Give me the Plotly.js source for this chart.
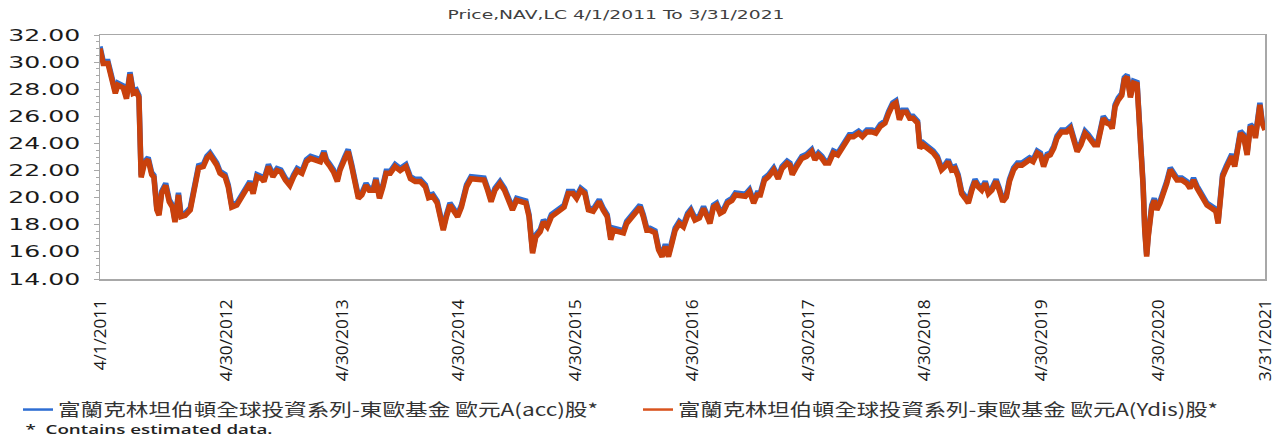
<!DOCTYPE html>
<html>
<head>
<meta charset="utf-8">
<script src="https://cdn.plot.ly/plotly-3.0.1.min.js"></script>
<style>
  html, body { margin:0; padding:0; background:#fff; }
  #chart { width:1288px; height:439px; }
</style>
</head>
<body>
<div id="chart"></div>
<script>
// ---------- DATA ----------
const chartTitle = 'Price,NAV,LC 4/1/2011 To 3/31/2021';
const seriesNames = [
  '富蘭克林坦伯頓全球投資系列-東歐基金 歐元A(acc)股*',
  '富蘭克林坦伯頓全球投資系列-東歐基金 歐元A(Ydis)股*'
];
const footnote = '*  Contains estimated data.';

const tickDates = ['2011-04-01','2012-04-30','2013-04-30','2014-04-30','2015-04-30','2016-04-30','2017-04-30','2018-04-30','2019-04-30','2020-04-30','2021-03-31'];
const tickLabels = ['4/1/2011','4/30/2012','4/30/2013','4/30/2014','4/30/2015','4/30/2016','4/30/2017','4/30/2018','4/30/2019','4/30/2020','3/31/2021'];

const dates = [
'2011-04-01','2011-04-11','2011-04-26','2011-05-07','2011-05-19','2011-05-27','2011-06-13','2011-06-23','2011-07-04','2011-07-14',
'2011-07-24','2011-08-01','2011-08-08','2011-08-18','2011-08-30','2011-09-10','2011-09-17','2011-09-26','2011-10-03','2011-10-11',
'2011-10-24','2011-11-04','2011-11-14','2011-11-22','2011-12-03','2011-12-11','2011-12-24','2012-01-09','2012-01-24','2012-02-04',
'2012-02-19','2012-03-01','2012-03-11','2012-03-21','2012-04-01','2012-04-11','2012-04-27','2012-05-07','2012-05-18','2012-06-03',
'2012-06-19','2012-07-04','2012-07-14','2012-07-24','2012-08-05','2012-08-20',
'2012-08-27','2012-09-10','2012-09-24','2012-10-07','2012-10-19','2012-11-02','2012-11-16','2012-11-28','2012-12-09','2012-12-24',
'2013-01-07','2013-01-20','2013-02-05','2013-02-20','2013-03-03','2013-03-11','2013-03-22','2013-04-02','2013-04-14','2013-04-22',
'2013-05-08','2013-05-18','2013-05-29','2013-06-09','2013-06-19','2013-06-30','2013-07-13','2013-07-23','2013-08-05','2013-08-13',
'2013-08-24','2013-09-04','2013-09-14','2013-09-27','2013-10-12','2013-10-28','2013-11-15','2013-11-29','2013-12-14','2013-12-30',
'2014-01-15','2014-01-25',
'2014-02-07','2014-02-21','2014-03-05','2014-03-12','2014-03-22','2014-04-02','2014-04-12','2014-04-26','2014-05-08','2014-05-24',
'2014-06-07','2014-06-19','2014-07-05','2014-07-18','2014-07-29','2014-08-09','2014-08-21','2014-09-06','2014-09-20','2014-10-02',
'2014-10-15','2014-10-28','2014-11-13','2014-11-26','2014-12-06','2014-12-13','2014-12-17','2014-12-27','2015-01-10','2015-01-20',
'2015-02-01','2015-02-14','2015-02-26','2015-03-12','2015-03-26','2015-04-08','2015-04-23','2015-05-04','2015-05-17','2015-05-30',
'2015-06-10','2015-06-25',
'2015-07-14','2015-07-26','2015-08-08','2015-08-19','2015-08-27','2015-09-12','2015-09-28','2015-10-08','2015-10-24','2015-11-07',
'2015-11-19','2015-11-29','2015-12-10','2015-12-20','2016-01-05','2016-01-16','2016-01-27','2016-02-06','2016-02-16','2016-02-27',
'2016-03-08','2016-03-21','2016-04-03','2016-04-16','2016-04-26','2016-05-09','2016-05-23','2016-06-05','2016-06-15','2016-06-25',
'2016-07-06','2016-07-16','2016-07-27','2016-08-07','2016-08-19','2016-09-02','2016-09-13','2016-09-28','2016-10-14','2016-10-27',
'2016-11-09','2016-11-20',
'2016-11-30','2016-12-13','2016-12-26','2017-01-11','2017-01-25','2017-02-06','2017-02-22','2017-03-03','2017-03-10','2017-03-24',
'2017-04-09','2017-04-24','2017-05-10','2017-05-20','2017-05-31','2017-06-11','2017-06-21','2017-07-03','2017-07-17','2017-07-31',
'2017-08-10','2017-08-23','2017-09-05','2017-09-18','2017-10-04','2017-10-16','2017-10-30','2017-11-15','2017-11-27','2017-12-11',
'2017-12-26','2018-01-06','2018-01-19','2018-01-29','2018-02-09','2018-02-19','2018-03-03','2018-03-13','2018-03-24','2018-04-07',
'2018-04-14','2018-04-24',
'2018-05-10','2018-05-26','2018-06-08','2018-06-21','2018-07-02','2018-07-12','2018-07-22','2018-08-02','2018-08-12','2018-08-23',
'2018-09-03','2018-09-13','2018-09-24','2018-10-04','2018-10-14','2018-10-25','2018-11-05','2018-11-15','2018-11-26','2018-12-09',
'2018-12-19','2018-12-30','2019-01-10','2019-01-20','2019-02-02','2019-02-14','2019-02-28','2019-03-12','2019-03-24','2019-04-04',
'2019-04-17','2019-04-27','2019-05-07','2019-05-18','2019-05-28','2019-06-08','2019-06-18','2019-07-02','2019-07-18','2019-07-30',
'2019-08-10','2019-08-20','2019-09-01','2019-09-14','2019-09-24',
'2019-10-13','2019-10-23','2019-10-31','2019-11-10','2019-11-21','2019-12-01','2019-12-08','2019-12-17','2019-12-27','2020-01-07',
'2020-01-15','2020-01-24','2020-02-03','2020-02-13','2020-02-24','2020-03-01','2020-03-07','2020-03-14','2020-03-19','2020-03-25',
'2020-03-30','2020-04-05','2020-04-10','2020-04-18','2020-04-26','2020-05-06','2020-05-16','2020-05-27','2020-06-07','2020-06-17',
'2020-06-28','2020-07-13','2020-07-29','2020-08-08','2020-08-19','2020-08-30','2020-09-09','2020-09-20','2020-09-30','2020-10-16',
'2020-10-28','2020-11-04','2020-11-11','2020-11-18','2020-11-29','2020-12-09','2020-12-17','2020-12-26','2021-01-06','2021-01-13',
'2021-01-23','2021-02-03','2021-02-13','2021-02-24','2021-03-01','2021-03-09','2021-03-15','2021-03-22','2021-03-31'
];

// A(Ydis) share class (orange)
const ydisValues = [
31.0,29.9,29.9,28.9,27.7,28.3,28.1,27.3,29.1,27.7,
27.8,27.4,21.5,22.5,22.8,21.7,21.5,19.1,18.7,20.3,
20.9,19.7,19.3,18.2,20.2,18.6,18.7,19.1,20.8,22.2,
22.3,22.9,23.15,22.8,22.4,21.8,21.55,20.8,19.3,19.45,
20.1,20.7,21.05,20.3,21.55,21.4,
21.2,22.3,21.55,22.0,21.9,21.3,20.9,21.55,22.0,21.8,
22.65,22.9,22.8,22.65,23.3,22.65,22.3,21.9,21.2,22.0,
22.9,23.4,22.3,21.05,19.95,20.2,20.9,20.55,20.55,21.3,
19.95,20.8,21.8,21.8,22.3,22.0,22.3,21.4,21.2,21.2,
20.8,20.0,
20.1,19.6,18.1,17.6,18.6,19.45,19.1,18.6,19.3,20.8,
21.4,21.4,21.4,21.3,20.55,19.7,20.55,21.05,20.55,19.95,
19.1,19.8,19.7,19.6,18.6,17.1,15.9,17.1,17.5,18.2,
17.85,18.6,18.85,19.1,19.3,20.3,20.3,19.95,20.55,20.3,
19.1,19.0,
19.7,19.1,18.6,16.9,17.6,17.5,17.4,18.1,18.6,19.0,
19.3,18.6,17.6,17.6,17.4,16.15,15.65,16.4,15.65,16.65,
17.6,18.1,17.85,18.7,19.0,18.35,18.5,19.2,18.6,18.1,
19.3,19.45,18.85,19.0,19.6,19.8,20.2,20.2,20.1,20.45,
19.6,20.2,
20.2,21.3,21.55,22.05,21.4,22.15,22.55,22.4,21.7,22.3,
22.9,23.05,23.4,22.8,23.15,22.9,22.55,22.55,23.3,23.15,
23.5,24.0,24.5,24.5,24.75,24.5,24.85,24.85,24.75,25.25,
25.5,26.2,26.85,27.0,25.75,26.3,26.3,25.85,25.85,25.5,
23.65,23.9,
23.65,23.3,22.9,22.05,22.3,22.65,22.05,22.15,21.55,20.3,
19.95,19.6,20.55,21.2,20.8,20.55,21.05,20.3,20.55,21.2,
20.55,19.7,20.05,21.2,22.05,22.4,22.4,22.65,22.8,22.65,
23.3,23.15,22.3,23.05,23.15,23.65,24.4,24.85,24.85,25.1,
24.0,23.4,23.9,24.75,24.5,
23.9,23.9,24.85,25.85,25.5,25.4,25.1,26.7,27.2,27.55,
28.7,28.9,27.4,28.45,28.35,26.2,24.0,20.8,17.6,15.65,
17.1,18.1,19.3,19.8,19.1,19.6,20.2,21.05,22.05,21.7,
21.3,21.3,21.05,20.7,21.3,20.7,20.3,19.95,19.45,19.2,
19.0,18.1,19.6,21.55,22.15,22.8,23.05,22.3,23.75,24.75,
24.5,23.15,25.25,25.0,24.4,26.2,26.85,25.5,25.0
];

// A(acc) share class (blue), read slightly above the orange line
const accValues = [
31.15,30.05,30.05,29.05,27.85,28.45,28.25,27.45,29.25,27.85,
27.95,27.55,21.65,22.65,22.95,21.85,21.65,19.25,18.85,20.45,
21.05,19.85,19.45,18.35,20.35,18.75,18.85,19.25,20.95,22.35,
22.45,23.05,23.3,22.95,22.55,21.95,21.7,20.95,19.45,19.6,
20.25,20.85,21.2,20.45,21.7,21.55,
21.35,22.45,21.7,22.15,22.05,21.45,21.05,21.7,22.15,21.95,
22.8,23.05,22.95,22.8,23.45,22.8,22.45,22.05,21.35,22.15,
23.05,23.55,22.45,21.2,20.1,20.35,21.05,20.7,20.7,21.45,
20.1,20.95,21.95,21.95,22.45,22.15,22.45,21.55,21.35,21.35,
20.95,20.15,
20.25,19.75,18.25,17.75,18.75,19.6,19.25,18.75,19.45,20.95,
21.55,21.55,21.55,21.45,20.7,19.85,20.7,21.2,20.7,20.1,
19.25,19.95,19.85,19.75,18.75,17.25,16.05,17.25,17.65,18.35,
18.0,18.75,19.0,19.25,19.45,20.45,20.45,20.1,20.7,20.45,
19.25,19.15,
19.85,19.25,18.75,17.05,17.75,17.65,17.55,18.25,18.75,19.15,
19.45,18.75,17.75,17.75,17.55,16.3,15.8,16.55,15.8,16.8,
17.75,18.25,18.0,18.85,19.15,18.5,18.65,19.35,18.75,18.25,
19.45,19.6,19.0,19.15,19.75,19.95,20.35,20.35,20.25,20.6,
19.75,20.35,
20.35,21.45,21.7,22.2,21.55,22.3,22.7,22.55,21.85,22.45,
23.05,23.2,23.55,22.95,23.3,23.05,22.7,22.7,23.45,23.3,
23.65,24.15,24.65,24.65,24.9,24.65,25.0,25.0,24.9,25.4,
25.65,26.35,27.0,27.15,25.9,26.45,26.45,26.0,26.0,25.65,
23.8,24.05,
23.8,23.45,23.05,22.2,22.45,22.8,22.2,22.3,21.7,20.45,
20.1,19.75,20.7,21.35,20.95,20.7,21.2,20.45,20.7,21.35,
20.7,19.85,20.2,21.35,22.2,22.55,22.55,22.8,22.95,22.8,
23.45,23.3,22.45,23.2,23.3,23.8,24.55,25.0,25.0,25.25,
24.15,23.55,24.05,24.9,24.65,
24.05,24.05,25.0,26.0,25.65,25.55,25.25,26.85,27.35,27.7,
28.85,29.05,27.55,28.6,28.5,26.35,24.15,20.95,17.75,15.8,
17.25,18.25,19.45,19.95,19.25,19.75,20.35,21.2,22.2,21.85,
21.45,21.45,21.2,20.85,21.45,20.85,20.45,20.1,19.6,19.35,
19.15,18.25,19.75,21.7,22.3,22.95,23.2,22.45,23.9,24.9,
24.65,23.3,25.4,25.15,24.55,26.35,27.0,25.65,25.15
];

const yRange = [14, 32];

// ---------- STYLE ----------
const BLUE = '#2F6ED3';
const ORANGE = '#C9410C';
const AXIS_GRAY = '#A8A8A8';

const traces = [
  {x: dates, y: accValues, type: 'scatter', mode: 'lines', name: seriesNames[0],
   line: {color: BLUE, width: 5.5}, showlegend: false, hoverinfo: 'skip'},
  {x: dates, y: ydisValues, type: 'scatter', mode: 'lines', name: seriesNames[1],
   line: {color: ORANGE, width: 5.5}, showlegend: false, hoverinfo: 'skip'},
  // legend entries (thin sample lines as in the original legend)
  {x: [null], y: [null], type: 'scatter', mode: 'lines', name: seriesNames[0],
   line: {color: BLUE, width: 2.5}, showlegend: true},
  {x: [null], y: [null], type: 'scatter', mode: 'lines', name: seriesNames[1],
   line: {color: '#D9531E', width: 2.5}, showlegend: true}
];

const W = 1288, H = 439;
const L = 100, R = 23, T = 35, B = 160;
const plotW = W - L - R, plotH = H - T - B;
const FOOT_LEFT = 25, FOOT_W = 247;

const layout = {
  width: W, height: H,
  margin: {l: L, r: R, t: T, b: B, pad: 0, autoexpand: false},
  paper_bgcolor: '#ffffff',
  plot_bgcolor: '#ffffff',
  title: {
    text: chartTitle,
    x: 616 / W, xanchor: 'center', xref: 'container',
    y: 1 - 15 / H, yanchor: 'middle', yref: 'container',
    font: {family: 'DejaVu Sans', size: 12, color: '#404040'}
  },
  xaxis: {
    type: 'date',
    range: ['2011-04-01', '2021-03-31'],
    tickmode: 'array', tickvals: tickDates, ticktext: tickLabels,
    tickangle: -90,
    ticks: '',
    showgrid: false, zeroline: false,
    showline: true, mirror: true, linecolor: AXIS_GRAY, linewidth: 1.5,
    tickfont: {family: 'Open Sans', size: 17, color: '#1a1a1a'},
    ticklabelstandoff: 12,
    automargin: false,
    fixedrange: true
  },
  yaxis: {
    range: yRange,
    tickmode: 'linear', tick0: 14, dtick: 2,
    tickformat: '.2f',
    ticks: 'outside', ticklen: 5, tickwidth: 1, tickcolor: AXIS_GRAY,
    minor: {dtick: 0.5, ticks: 'outside', ticklen: 3, tickwidth: 1, tickcolor: AXIS_GRAY, showgrid: false},
    showgrid: false, zeroline: false,
    showline: true, mirror: true, linecolor: AXIS_GRAY, linewidth: 1.5,
    tickfont: {family: 'DejaVu Sans', size: 16, color: '#1a1a1a'},
    ticklabelstandoff: 10,
    automargin: false,
    fixedrange: true
  },
  showlegend: true,
  legend: {
    orientation: 'h',
    x: (18 - L) / plotW, xanchor: 'left',
    y: -(410 - (T + plotH)) / plotH, yanchor: 'middle',
    font: {family: 'Noto Sans CJK TC', size: 17, color: '#333333'},
    entrywidth: 575, entrywidthmode: 'pixels',
    bgcolor: 'rgba(0,0,0,0)',
    traceorder: 'normal'
  },
  annotations: [{
    text: footnote,
    xref: 'paper', yref: 'paper',
    x: (FOOT_LEFT + FOOT_W / 2 - L) / plotW, xanchor: 'center',
    y: -(429 - (T + plotH)) / plotH, yanchor: 'middle',
    showarrow: false, borderpad: 0,
    font: {family: 'Open Sans', size: 12, color: '#222222', weight: 600}
  }]
};

function fitText(nodes, lens) {
  nodes.forEach((n, i) => {
    const len = Array.isArray(lens) ? lens[i] : lens;
    if (len) {
      n.setAttribute('textLength', len);
      n.setAttribute('lengthAdjust', 'spacingAndGlyphs');
    }
  });
}

Plotly.newPlot('chart', traces, layout, {displayModeBar: false, staticPlot: true}).then(gd => {
  fitText(gd.querySelectorAll('.ytick text'), 72);
  const xl = [];
  gd.querySelectorAll('.xtick text').forEach(n => {
    const t = n.textContent;
    xl.push(t.length === 8 ? 71 : 82);
  });
  fitText(gd.querySelectorAll('.xtick text'), xl);
  fitText(gd.querySelectorAll('.gtitle'), 337);
  fitText(gd.querySelectorAll('.legendtext'), 540);
  fitText(gd.querySelectorAll('.annotation-text'), FOOT_W);
});
</script>
</body>
</html>
